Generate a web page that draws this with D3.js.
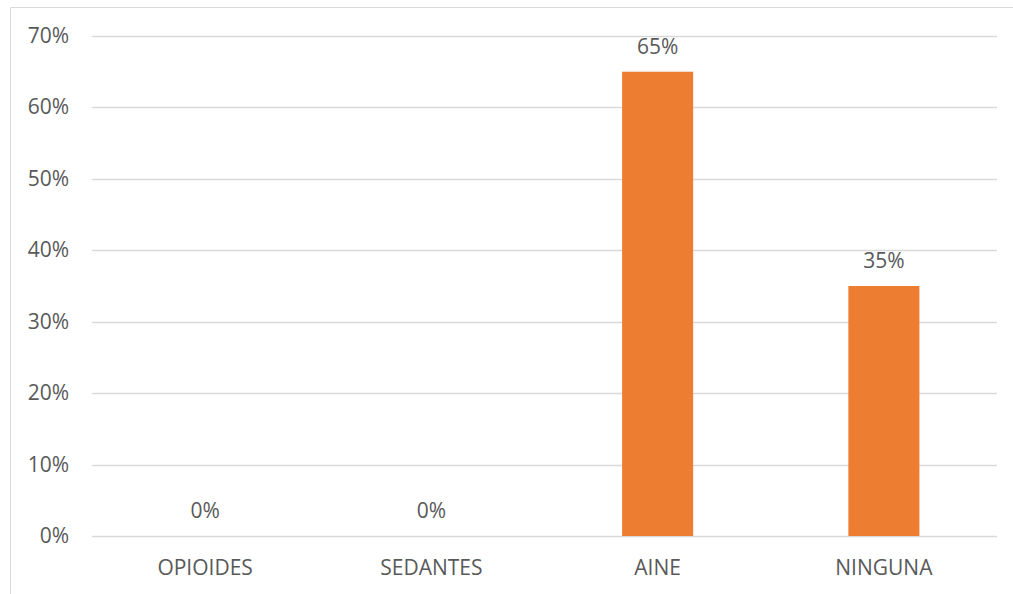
<!DOCTYPE html>
<html>
<head>
<meta charset="utf-8">
<script src="https://cdn.jsdelivr.net/npm/d3@7"></script>
<style>
  body { margin: 0; background: #fff; }
  text { font-family: "Open Sans", Lato, sans-serif; fill: #595959; }
</style>
</head>
<body>
<div id="chart"></div>
<script>
'use strict'
const categories = ['OPIOIDES', 'SEDANTES', 'AINE', 'NINGUNA']
const values = [0, 0, 0.65, 0.35]
const yTicks = [0, 0.1, 0.2, 0.3, 0.4, 0.5, 0.6, 0.7]

let w = 1013, h = 594
let margins = {top: 36, bottom: 58, left: 92, right: 16}
let fontSize = '21px'

let svg = d3.select('#chart').append('svg')
  .attr('width', w).attr('height', h)

// chart frame (partly cut off in the picture)
svg.append('path')
  .attr('d', 'M10.5,' + h + 'V7.5H' + w)
  .attr('fill', 'none').attr('stroke', '#d9d9d9')

let x = d3.scaleBand().domain(categories)
  .range([margins.left, w - margins.right]).paddingInner(0.686).paddingOuter(0.343)
let y = d3.scaleLinear().domain([0, 0.7]).range([h - margins.bottom, margins.top])

// gridlines
svg.append('g').selectAll('line').data(yTicks).enter().append('line')
  .attr('x1', margins.left).attr('x2', w - margins.right)
  .attr('y1', d => Math.round(y(d)) + 0.5).attr('y2', d => Math.round(y(d)) + 0.5)
  .attr('stroke', '#d9d9d9').attr('stroke-width', 1.3)

// y labels
svg.append('g').selectAll('text').data(yTicks).enter().append('text')
  .attr('x', 69).attr('y', d => y(d) + 7)
  .attr('text-anchor', 'end').style('font-size', fontSize)
  .text(d => d3.format('.0%')(d))

// bars
svg.append('g').selectAll('rect').data(values).enter().append('rect')
  .attr('x', (d, i) => x(categories[i]))
  .attr('width', x.bandwidth())
  .attr('y', d => y(d))
  .attr('height', d => y(0) - y(d))
  .attr('fill', '#ED7D31')

// value labels
svg.append('g').selectAll('text').data(values).enter().append('text')
  .attr('x', (d, i) => x(categories[i]) + x.bandwidth() / 2)
  .attr('y', d => y(d) - 18)
  .attr('text-anchor', 'middle').style('font-size', fontSize)
  .text(d => d3.format('.0%')(d))

// category labels
svg.append('g').selectAll('text').data(categories).enter().append('text')
  .attr('x', d => x(d) + x.bandwidth() / 2)
  .attr('y', y(0) + 39)
  .attr('text-anchor', 'middle').style('font-size', fontSize)
  .text(d => d)
</script>
</body>
</html>
